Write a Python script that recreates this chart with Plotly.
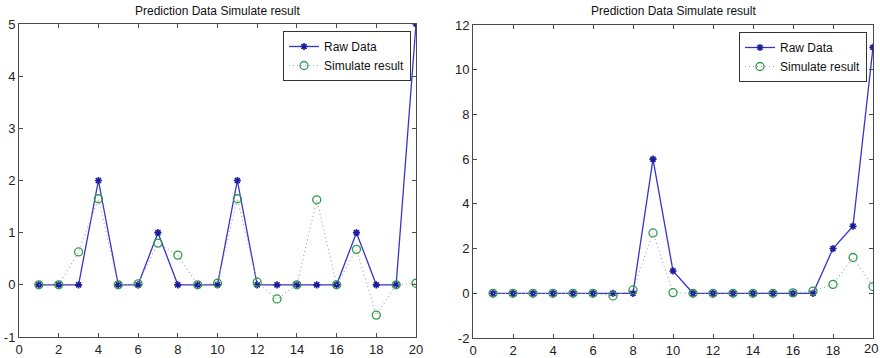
import plotly.graph_objects as go

x = list(range(1, 21))

raw_left = [0, 0, 0, 2, 0, 0, 1, 0, 0, 0, 2, 0, 0, 0, 0, 0, 1, 0, 0, 5]
sim_left = [0, 0, 0.63, 1.65, 0, 0.02, 0.8, 0.57, 0, 0.03, 1.65, 0.05, -0.27, 0, 1.63, 0, 0.68, -0.58, 0, 0.03]

raw_right = [0, 0, 0, 0, 0, 0, 0, 0, 6, 1, 0, 0, 0, 0, 0, 0, 0, 2, 3, 11]
sim_right = [0, 0, 0, 0, 0, 0, -0.12, 0.15, 2.7, 0.03, 0, 0, 0, 0, 0, 0.02, 0.1, 0.4, 1.6, 0.3]

x_ticks = [0, 2, 4, 6, 8, 10, 12, 14, 16, 18, 20]
y_ticks_left = [-1, 0, 1, 2, 3, 4, 5]
y_ticks_right = [-2, 0, 2, 4, 6, 8, 10, 12]

title_text = "Prediction Data Simulate result"
FONT = "Liberation Sans, Arial, sans-serif"

RAW_LINE = "#3535c8"
RAW_MARK = "#1c1c9a"
SIM_LINE = "#a8a8a8"
SIM_MARK = "#2f9a4c"

fig = go.Figure()

def add_pair(raw, sim, xa, ya, leg):
    fig.add_trace(go.Scatter(
        x=x, y=raw, name="Raw Data", mode="lines+markers",
        line=dict(color=RAW_LINE, width=1.3),
        marker=dict(symbol="asterisk-open", size=6, color=RAW_MARK,
                    line=dict(color=RAW_MARK, width=1.6)),
        xaxis=xa, yaxis=ya, legend=leg))
    fig.add_trace(go.Scatter(
        x=x, y=sim, name="Simulate result", mode="lines+markers",
        line=dict(color=SIM_LINE, width=1.2, dash="1px,3px"),
        marker=dict(symbol="circle-open", size=8, color=SIM_MARK,
                    line=dict(color=SIM_MARK, width=1.3)),
        xaxis=xa, yaxis=ya, legend=leg))

add_pair(raw_left, sim_left, "x", "y", "legend")
add_pair(raw_right, sim_right, "x2", "y2", "legend2")

def labels(vals):
    return [str(v) for v in vals]

W, H = 880, 358
axcommon = dict(showline=True, mirror="ticks", linecolor="#4a4a4a", linewidth=1,
                ticks="inside", ticklen=4, tickcolor="#4a4a4a", showgrid=False,
                zeroline=False, fixedrange=True, automargin=False,
                ticklabeloverflow="allow")
tf13 = dict(family=FONT, size=13, color="#222")

# right x axis: last label drawn as an annotation so it is not dropped at the page edge
x2_text = labels(x_ticks)
last_label = x2_text[-1]
x2_text[-1] = ""

fig.update_layout(
    width=W, height=H,
    margin=dict(l=0, r=0, t=0, b=0, autoexpand=False),
    paper_bgcolor="white", plot_bgcolor="white",
    xaxis=dict(domain=[19 / W, 416 / W], range=[0, 20], tickvals=x_ticks, ticktext=labels(x_ticks),
               anchor="y", tickfont=tf13, **axcommon),
    yaxis=dict(domain=[1 - 337 / H, 1 - 24 / H], range=[-1, 5], tickvals=y_ticks_left,
               ticktext=labels(y_ticks_left), anchor="x", tickfont=tf13, **axcommon),
    xaxis2=dict(domain=[473 / W, 873 / W], range=[0, 20], tickvals=x_ticks, ticktext=x2_text,
                anchor="y2", tickfont=tf13, **axcommon),
    yaxis2=dict(domain=[1 - 338 / H, 1 - 25 / H], range=[-2, 12], tickvals=y_ticks_right,
                ticktext=labels(y_ticks_right), anchor="x2", tickfont=tf13, **axcommon),
    legend=dict(x=411 / W, y=1 - 31 / H, xanchor="right", yanchor="top",
                bgcolor="white", bordercolor="#333", borderwidth=1,
                font=dict(family=FONT, size=12, color="#111"), tracegroupgap=0),
    legend2=dict(x=867 / W, y=1 - 32 / H, xanchor="right", yanchor="top",
                 bgcolor="white", bordercolor="#333", borderwidth=1,
                 font=dict(family=FONT, size=12, color="#111"), tracegroupgap=0),
    annotations=[
        dict(text=title_text, x=(19 + 416) / 2 / W, y=1 - 11 / H, xref="paper", yref="paper",
             xanchor="center", yanchor="middle", showarrow=False,
             font=dict(family=FONT, size=12, color="#111")),
        dict(text=title_text, x=(473 + 873) / 2 / W, y=1 - 11 / H, xref="paper", yref="paper",
             xanchor="center", yanchor="middle", showarrow=False,
             font=dict(family=FONT, size=12, color="#111")),
        dict(text=last_label, x=x_ticks[-1], xref="x2", y=1 - 338 / H, yref="paper",
             xanchor="center", yanchor="top", xshift=-2, yshift=-1, showarrow=False,
             font=tf13),
    ],
    showlegend=True,
)

fig.write_html("out.html", config={"displayModeBar": False},
               post_script="document.body.style.margin='0';document.body.style.overflow='hidden';")
